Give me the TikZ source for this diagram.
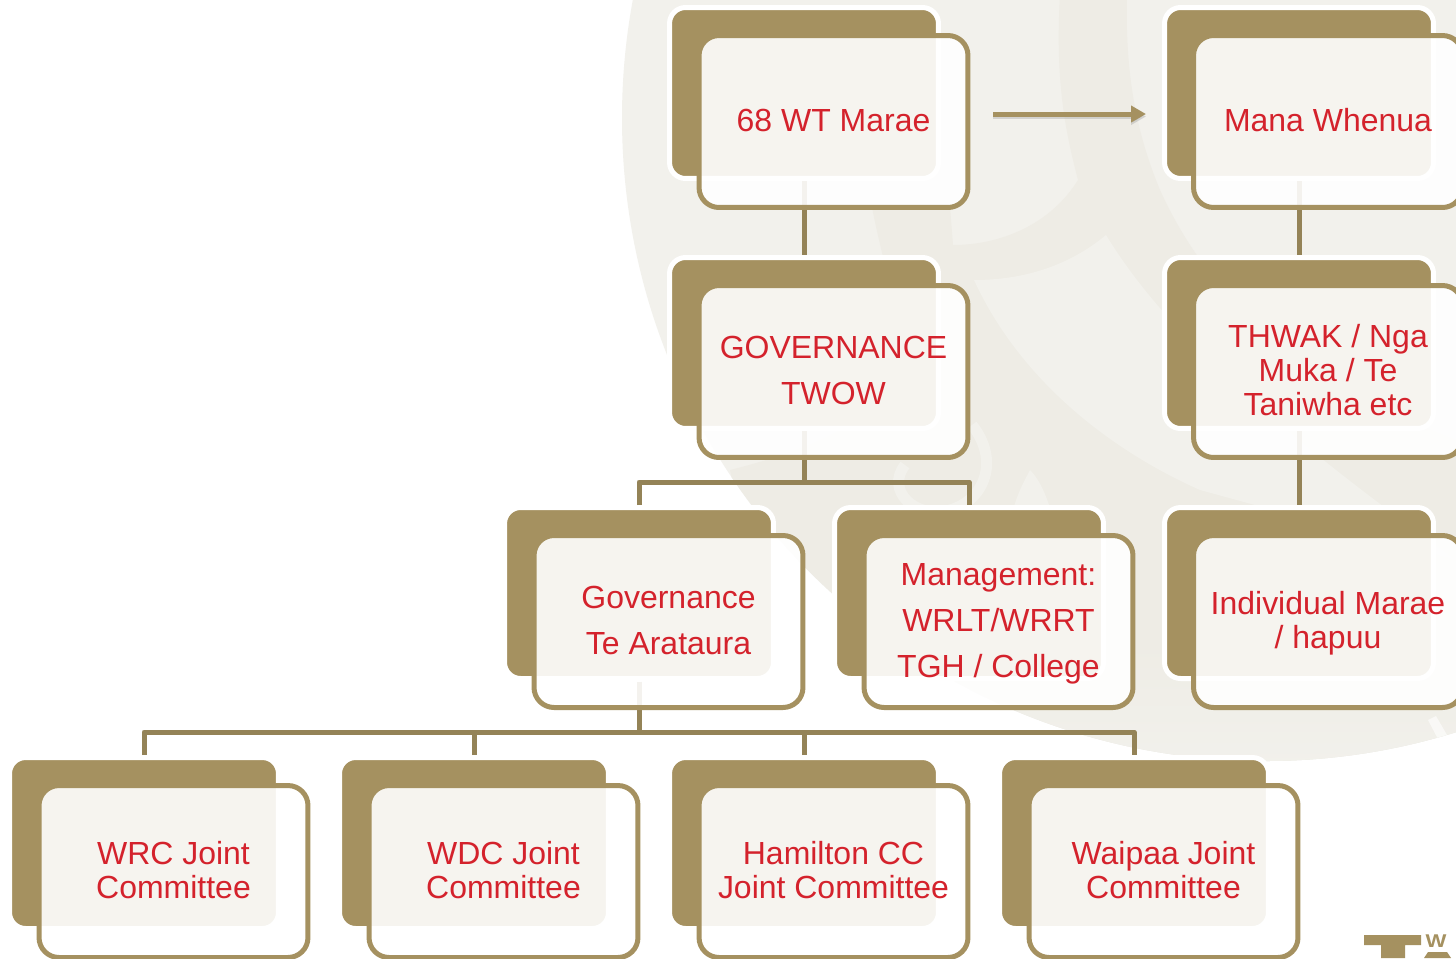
\documentclass[tikz,border=0pt]{standalone}
\usepackage{fontspec}
\setmainfont{Liberation Sans}
\usetikzlibrary{arrows.meta, positioning}
\definecolor{cardtan}{RGB}{165, 145, 96}
\definecolor{linktan}{RGB}{148, 131, 87}
\definecolor{cardred}{RGB}{212, 34, 44}
\definecolor{discpale}{RGB}{242, 241, 236}
\definecolor{discband}{RGB}{238, 236, 229}
\lineskiplimit=-20pt
\newcommand{\cardstrut}{\rule[-4.1pt]{0pt}{20pt}}
\newcommand{\cardtop}{\rule{0pt}{15.5pt}}
\tikzset{
  backbox/.style={draw=white, line width=0.1cm, fill=cardtan, rounded corners=0.32cm, minimum width=5.38cm, minimum height=3.42cm, inner sep=0pt, outer sep=0pt},
  frontbox/.style={draw=cardtan, line width=0.1cm, fill=white, fill opacity=0.9, draw opacity=1, text opacity=1, rounded corners=0.4cm, minimum width=5.38cm, minimum height=3.44cm, inner sep=0pt, outer sep=0pt, text=cardred, align=center, font=\fontsize{18.2}{19.1}\selectfont, execute at begin node=\cardstrut, execute at end node=\cardstrut},
  loosebox/.style={frontbox, font=\fontsize{18.2}{26.4}\selectfont},
  linkline/.style={draw=linktan, line width=0.1cm, shorten <=0.06cm, shorten >=0.05cm}
}
\begin{document}
\begin{tikzpicture}[x=0.02cm, y=-0.02cm]
  \useasboundingbox (0,0) rectangle (1456,958);
  \clip (0,0) rectangle (1456,958);
  \fill[white] (0,0) rectangle (1456,958);

  % Watermark
  \begin{scope}
    \clip (1265,118) circle (643);
    \fill[discpale] (1265,118) circle (643);
    \fill[discband] (1060,-5) .. controls (1055,80) and (1065,130) .. (1078,180)
      .. controls (1050,225) and (1000,245) .. (953,245) -- (950,207) -- (872,207)
      .. controls (880,250) and (895,300) .. (905,350) .. controls (900,400) and (850,440) .. (730,470)
      -- (800,800) -- (1456,800) -- (1456,440)
      .. controls (1300,380) and (1210,300) .. (1160,190) .. controls (1135,130) and (1125,70) .. (1127,-5) -- cycle;
    \fill[discpale] (974,280) .. controls (1025,280) and (1070,265) .. (1106,235)
      .. controls (1170,340) and (1290,440) .. (1456,560) -- (1200,490)
      .. controls (1110,450) and (1020,380) .. cycle;
    \draw[discpale, line width=0.22cm] (972,425) .. controls (1000,460) and (985,500) .. (950,510) .. controls (915,520) and (885,490) .. (905,465);
    \fill[discpale] (1008,530) .. controls (1015,495) and (1025,480) .. (1030,470) .. controls (1050,490) and (1060,540) .. (1065,590) -- cycle;
    \shade[top color=discband, bottom color=discpale] (700,640) rectangle (1456,770);
    \fill[white, opacity=0.6] (1428,720) -- (1436,716) -- (1447,735) -- (1439,741) -- cycle;
  \end{scope}

  % Logo
  \fill[cardtan] (1364,935) -- (1421,935) -- (1421,945) -- (1405,945) -- (1405,958) -- (1381,958) -- (1381,945) -- (1364,945) -- cycle;
  \fill[cardtan] (1428,952) -- (1447,952) -- (1451,958) -- (1424,958) -- cycle;
  \node[text=cardtan, font=\fontsize{10.5}{11}\bfseries, xscale=1.2, inner sep=0pt] (logow) at (1436,941.5) {W};

  % Back cards
  \node[backbox] (marae) at (804,93) {};
  \node[backbox] (mana) at (1299,93) {};
  \node[backbox] (twow) at (804,343) {};
  \node[backbox] (thwak) at (1299,343) {};
  \node[backbox] (arataura) at (639,593) {};
  \node[backbox] (mgmt) at (969,593) {};
  \node[backbox] (hapuu) at (1299,593) {};
  \node[backbox] (wrc) at (144,843) {};
  \node[backbox] (wdc) at (474,843) {};
  \node[backbox] (hcc) at (804,843) {};
  \node[backbox] (waipaa) at (1134,843) {};

  % Links
  \coordinate (busone) at (804,482);
  \coordinate (bustwo) at (639,732);
  \draw[linkline] (marae.south) -- (twow.north);
  \draw[linkline] (mana.south) -- (thwak.north);
  \draw[linkline] (thwak.south) -- (hapuu.north);
  \draw[linkline] (twow.south) -- (busone);
  \draw[linkline, shorten <=0.05cm, line join=round] (arataura.north) |- (busone) -| (mgmt.north);
  \draw[linkline] (arataura.south) -- (bustwo);
  \draw[linkline, shorten <=0.05cm, line join=round] (wrc.north) |- (bustwo) -| (waipaa.north);
  \draw[linkline, shorten <=0.05cm, shorten >=0pt] (wdc.north) -- (wdc.north |- bustwo);
  \draw[linkline, shorten <=0.05cm, shorten >=0pt] (hcc.north) -- (hcc.north |- bustwo);

  % Arrow
  \coordinate (arrowstart) at (993,114);
  \coordinate (arrowend) at (1146,114);
  \draw[draw=black!45, opacity=0.3, line width=0.1cm, -{Triangle[length=0.3cm, width=0.32cm]}] ([yshift=-0.05cm]arrowstart) -- ([yshift=-0.05cm]arrowend);
  \draw[draw=cardtan, fill=cardtan, line width=0.1cm, -{Triangle[length=0.3cm, width=0.32cm]}] (arrowstart) -- (arrowend);

  % Front cards
  \node[frontbox] (maraetext) at (833.5,121.5) {68 WT Marae};
  \node[frontbox] (manatext) at (1328,121.5) {Mana Whenua};
  \node[loosebox] (twowtext) at (833.5,371.5) {\cardtop GOVERNANCE\\TWOW};
  \node[frontbox] (thwaktext) at (1328,371.5) {\cardtop THWAK / Nga\\Muka / Te\\Taniwha etc};
  \node[loosebox] (aratauratext) at (668.5,621.5) {\cardtop Governance\\Te Arataura};
  \node[loosebox] (mgmttext) at (998.5,621.5) {\cardtop Management:\\WRLT/WRRT\\TGH / College};
  \node[frontbox] (hapuutext) at (1328,621.5) {\cardtop Individual Marae\\/ hapuu};
  \node[frontbox] (wrctext) at (173.5,871.5) {\cardtop WRC Joint\\Committee};
  \node[frontbox] (wdctext) at (503.5,871.5) {\cardtop WDC Joint\\Committee};
  \node[frontbox] (hcctext) at (833.5,871.5) {\cardtop Hamilton CC\\Joint Committee};
  \node[frontbox] (waipaatext) at (1163.5,871.5) {\cardtop Waipaa Joint\\Committee};
\end{tikzpicture}
\end{document}
